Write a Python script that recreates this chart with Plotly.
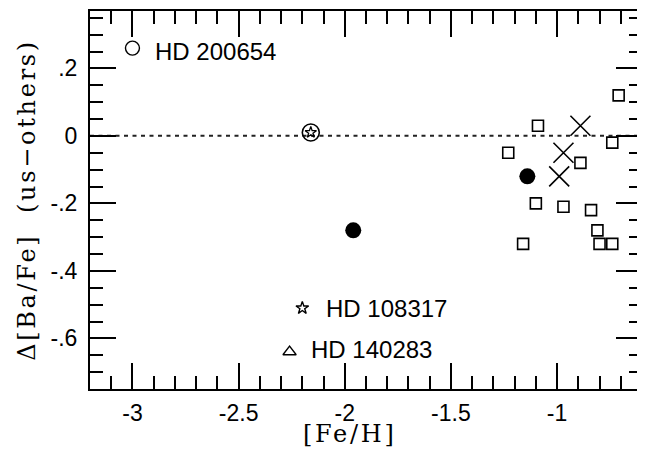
import plotly.graph_objects as go

# ---- data ----
square_feh = [-0.71, -1.09, -0.74, -1.23, -0.89, -1.10, -0.97, -0.84, -0.81, -1.16, -0.80, -0.74]
square_dba = [0.12, 0.03, -0.02, -0.05, -0.08, -0.20, -0.21, -0.22, -0.28, -0.32, -0.32, -0.32]

cross_feh = [-0.89, -0.97, -0.99]
cross_dba = [0.03, -0.05, -0.12]

filled_feh = [-1.96, -1.14]
filled_dba = [-0.28, -0.12]

starcirc_feh = [-2.16]
starcirc_dba = [0.01]

named_stars = ["HD 200654", "HD 108317", "HD 140283"]
named_feh = [-3.00, -2.20, -2.26]
named_dba = [0.26, -0.51, -0.64]
named_symbols = ["circle-open", "star-open", "triangle-up-open"]
named_sizes = [14, 9.5, 11.5]
label_xshift = [21, 22, 19]
label_yshift = [-3, 0, 2]

x_tickvals = [-3, -2.5, -2, -1.5, -1]
x_ticktext = ["-3", "-2.5", "-2", "-1.5", "-1"]
y_tickvals = [0.2, 0, -0.2, -0.4, -0.6]
y_ticktext = [".2", "0", "-.2", "-.4", "-.6"]

x_title = "[Fe/H]"
y_title = "Δ[Ba/Fe]  (us−others)"

SANS = "Liberation Sans, Arial, Helvetica, sans-serif"
SERIF = "DejaVu Serif, serif"

fig = go.Figure()

fig.add_trace(go.Scatter(
    x=square_feh, y=square_dba, mode="markers",
    marker=dict(symbol="square-open", size=11, color="black", line=dict(width=1.6, color="black")),
    showlegend=False))

fig.add_trace(go.Scatter(
    x=cross_feh, y=cross_dba, mode="markers",
    marker=dict(symbol="x-thin-open", size=20, color="black", line=dict(width=1.6, color="black")),
    showlegend=False))

fig.add_trace(go.Scatter(
    x=filled_feh, y=filled_dba, mode="markers",
    marker=dict(symbol="circle", size=16, color="black", line=dict(width=0)),
    showlegend=False))

fig.add_trace(go.Scatter(
    x=starcirc_feh, y=starcirc_dba, mode="markers",
    marker=dict(symbol="circle-open", size=17, color="black", line=dict(width=1.6, color="black")),
    showlegend=False))
fig.add_trace(go.Scatter(
    x=starcirc_feh, y=starcirc_dba, mode="markers",
    marker=dict(symbol="star-open", size=8.5, color="black", line=dict(width=1.3, color="black")),
    showlegend=False))

for name, fx, fy, sym, sz in zip(named_stars, named_feh, named_dba, named_symbols, named_sizes):
    fig.add_trace(go.Scatter(
        x=[fx], y=[fy], mode="markers",
        marker=dict(symbol=sym, size=sz, color="black", line=dict(width=1.4, color="black")),
        showlegend=False))

for name, fx, fy, xs, ys in zip(named_stars, named_feh, named_dba, label_xshift, label_yshift):
    fig.add_annotation(x=fx, y=fy, text=name, showarrow=False, xanchor="left", yanchor="middle",
                       xshift=xs, yshift=ys, font=dict(family=SANS, size=24, color="black"))

# dotted zero reference line across the plot
fig.add_shape(type="line", xref="x domain", x0=0, x1=1, yref="y", y0=0, y1=0,
              line=dict(color="#222222", width=2, dash="4px,4.5px"), layer="below")

axis_common = dict(
    showgrid=False, zeroline=False, showline=True, linecolor="black", linewidth=2,
    mirror="allticks", ticks="inside", tickcolor="black", tickwidth=1.6,
    tickfont=dict(family=SANS, size=23, color="black"),
)

SPACED = '<span style="letter-spacing:2.7px">{}</span>'

fig.update_xaxes(
    range=[-3.2, -0.6], tickmode="array", tickvals=x_tickvals, ticktext=x_ticktext,
    ticklen=26, ticklabelstandoff=2,
    minor=dict(tick0=-3, dtick=0.1, ticks="inside", ticklen=13, tickwidth=1.6, tickcolor="black", showgrid=False),
    **axis_common)

fig.update_yaxes(
    range=[-0.75, 0.37], tickmode="array", tickvals=y_tickvals, ticktext=y_ticktext,
    ticklen=26, ticklabelstandoff=6,
    minor=dict(tick0=0, dtick=0.05, ticks="inside", ticklen=13, tickwidth=1.6, tickcolor="black", showgrid=False),
    title=dict(text=SPACED.format(y_title), font=dict(family=SERIF, size=24, color="black"), standoff=8),
    **axis_common)

# x-axis title sits slightly left of the plot centre in the reference
fig.add_annotation(xref="paper", yref="paper", x=0.5, y=0, xanchor="center", yanchor="top",
                   xshift=-16, yshift=-29, showarrow=False,
                   text=SPACED.format(x_title), font=dict(family=SERIF, size=24, color="black"))

# the page body has an 8px margin, so the figure is sized to fill the rest of the window
fig.update_layout(
    width=637, height=441,
    margin=dict(l=82, r=3, t=3, b=60, autoexpand=False),
    plot_bgcolor="white", paper_bgcolor="white",
    showlegend=False,
)

fig.write_html("out.html")
